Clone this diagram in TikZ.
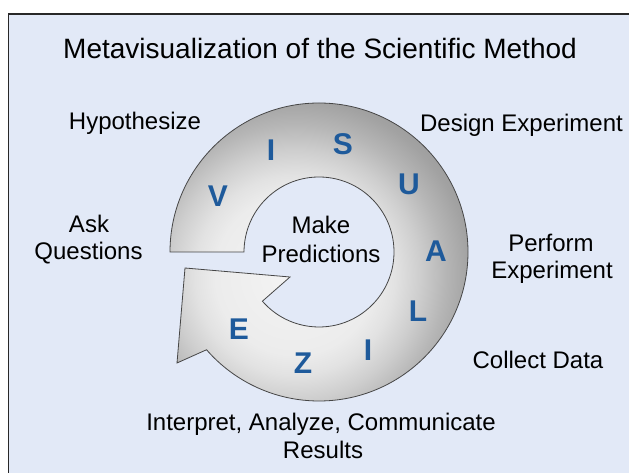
\documentclass[tikz,border=0pt]{standalone}
\usepackage{fontspec}
\setmainfont{Liberation Sans}
\definecolor{panel}{RGB}{226,233,247}
\definecolor{frameline}{RGB}{40,40,40}
\definecolor{letterblue}{RGB}{30,90,155}
\definecolor{ringedge}{RGB}{70,70,70}
\definecolor{gA}{RGB}{244,244,244}
\definecolor{gB}{RGB}{236,236,236}
\definecolor{gC}{RGB}{226,226,226}
\definecolor{gD}{RGB}{206,206,206}
\definecolor{gE}{RGB}{182,182,182}
\definecolor{gF}{RGB}{162,162,162}
\definecolor{gG}{RGB}{152,152,152}
% grey ramp of the circular arrow, light near the head, dark toward the rim
% (the central 50bp square of the shading covers the shaded circle)
\pgfdeclareradialshading{ringshade}{\pgfpoint{0bp}{0bp}}{%
  color(0bp)=(gA); color(10bp)=(gB); color(12.5bp)=(gC);
  color(15.6bp)=(gD); color(18.75bp)=(gE); color(21.9bp)=(gF);
  color(25bp)=(gG); color(50bp)=(gG)}
% outline of the circular arrow: outer rim, head, inner rim
\def\ringpath{(170,221) arc[start angle=180,end angle=-139,radius=149]
  -- (177,110) -- (185,205) -- (290,196) -- (262.4,171.8)
  arc[start angle=-139,end angle=180,radius=75] -- cycle}
\begin{document}
\begin{tikzpicture}[x=1pt,y=1pt,
  label/.style={font=\fontsize{24}{28}\selectfont, text=black, inner sep=0pt, anchor=base},
  letter/.style={font=\fontsize{30}{30}\selectfont\bfseries, text=letterblue, inner sep=0pt, anchor=center},
  title/.style={font=\fontsize{28}{32}\selectfont, text=black, inner sep=0pt, anchor=base}]
\useasboundingbox (0,0) rectangle (629,473);
\fill[white] (0,0) rectangle (629,473);
\fill[panel] (8.5,0) rectangle (629,459);
\draw[frameline, line width=1.3pt] (8.5,0) -- (8.5,459) -- (629,459);

% title
\node[title] (ttl) at (320,414) {Metavisualization of the Scientific Method};

% circular arrow
\begin{scope}
  \clip \ringpath;
  \shade[shading=ringshade] (295,198) circle (200);
\end{scope}
\draw[ringedge, line width=0.8pt, line join=miter] \ringpath;

% letters around the ring
\node[letter] (l1) at (218,277) {V};
\node[letter] (l2) at (271,323) {I};
\node[letter] (l3) at (343,329) {S};
\node[letter] (l4) at (409,289) {U};
\node[letter] (l5) at (436,222) {A};
\node[letter] (l6) at (418,162) {L};
\node[letter] (l7) at (368,123) {I};
\node[letter] (l8) at (303,110) {Z};
\node[letter] (l9) at (239,144) {E};

% centre text
\node[label] (mk1) at (321,239) {Make};
\node[label] (mk2) at (321,210) {Predictions};

% steps around the cycle
\node[label] (hyp) at (135,343) {Hypothesize};
\node[label] (ask1) at (89,240) {Ask};
\node[label] (ask2) at (88.5,213) {Questions};
\node[label] (des) at (521.5,341) {Design Experiment};
\node[label] (per1) at (551,221) {Perform};
\node[label] (per2) at (552,194) {Experiment};
\node[label] (col) at (538,104) {Collect Data};
\node[label] (int1) at (321,42.5) {Interpret, Analyze, Communicate};
\node[label] (int2) at (323,14) {Results};
\end{tikzpicture}
\end{document}
